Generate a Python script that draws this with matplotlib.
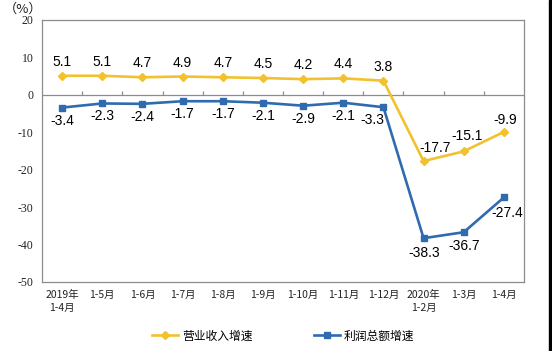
import numpy as np
import matplotlib
matplotlib.use('Agg')
import matplotlib.pyplot as plt
from matplotlib.patches import Rectangle

plt.rcParams['font.family'] = ['Noto Sans CJK SC', 'DejaVu Sans']

cats = ['2019年\n1-4月', '1-5月', '1-6月', '1-7月', '1-8月', '1-9月',
        '1-10月', '1-11月', '1-12月', '2020年\n1-2月', '1-3月', '1-4月']
revenue = [5.1, 5.1, 4.7, 4.9, 4.7, 4.5, 4.2, 4.4, 3.8, -17.7, -15.1, -9.9]
profit = [-3.4, -2.3, -2.4, -1.7, -1.7, -2.1, -2.9, -2.1, -3.3, -38.3, -36.7, -27.4]

# label offsets in pixels (dx, dy)
rev_off = [(0, 14)] * 9 + [(12, 13), (3, 15), (1, 12)]
pro_off = [(0, -13)] * 8 + [(-11, -13), (1, -15), (0, -14), (3, -16)]

yellow = '#F2C12E'
blue = '#2F6BAE'

fig = plt.figure(figsize=(5.52, 3.51), dpi=100)
ax = fig.add_axes([42 / 552, 1 - 282 / 351, 482 / 552, 262 / 351])
x = np.arange(len(cats))

l1, = ax.plot(x, revenue, color=yellow, lw=1.9, marker='D', ms=4.5, zorder=3)
l2, = ax.plot(x, profit, color=blue, lw=1.9, marker='s', ms=4.5, zorder=3)

for i, v in enumerate(revenue):
    ax.annotate(f'{v:.1f}', (x[i], v), xytext=rev_off[i], textcoords='offset pixels',
                ha='center', va='center', fontsize=10, family='Liberation Sans')
for i, v in enumerate(profit):
    ax.annotate(f'{v:.1f}', (x[i], v), xytext=pro_off[i], textcoords='offset pixels',
                ha='center', va='center', fontsize=10, family='Liberation Sans')

ax.set_xlim(-0.5, len(cats) - 0.5)
ax.set_ylim(-50, 20)
ax.set_yticks(range(-50, 21, 10))
ax.set_yticklabels([str(t) for t in range(-50, 21, 10)], family='Liberation Serif', fontsize=8.5)
ax.set_xticks(x)
ax.set_xticklabels(cats, fontsize=7.5, linespacing=1.3)
ax.tick_params(axis='both', length=0, pad=6, colors='#222222')
for s in ax.spines.values():
    s.set_color('#8c8c8c')
    s.set_linewidth(0.9)

# zero line with small upward ticks between categories
ax.axhline(0, color='#8c8c8c', lw=0.9, zorder=1)
ax.vlines(np.arange(0.5, len(cats) - 1), 0, 1.0, color='#8c8c8c', lw=0.9, zorder=1)

fig.text(4 / 552, 1 - 9 / 351, '（%）', fontsize=9.5, va='center', ha='left', color='#222222')

fig.legend([l1, l2], ['营业收入增速', '利润总额增速'], loc='center',
           bbox_to_anchor=(283 / 552, 1 - 336 / 351), ncol=2, frameon=False,
           fontsize=8.5, handlelength=2.2, columnspacing=5.2, handletextpad=0.3)

fig.patches.append(Rectangle((549 / 552, 0), 3 / 552, 1, transform=fig.transFigure,
                             color='black', zorder=10))

fig.savefig('out.png', dpi=100)
